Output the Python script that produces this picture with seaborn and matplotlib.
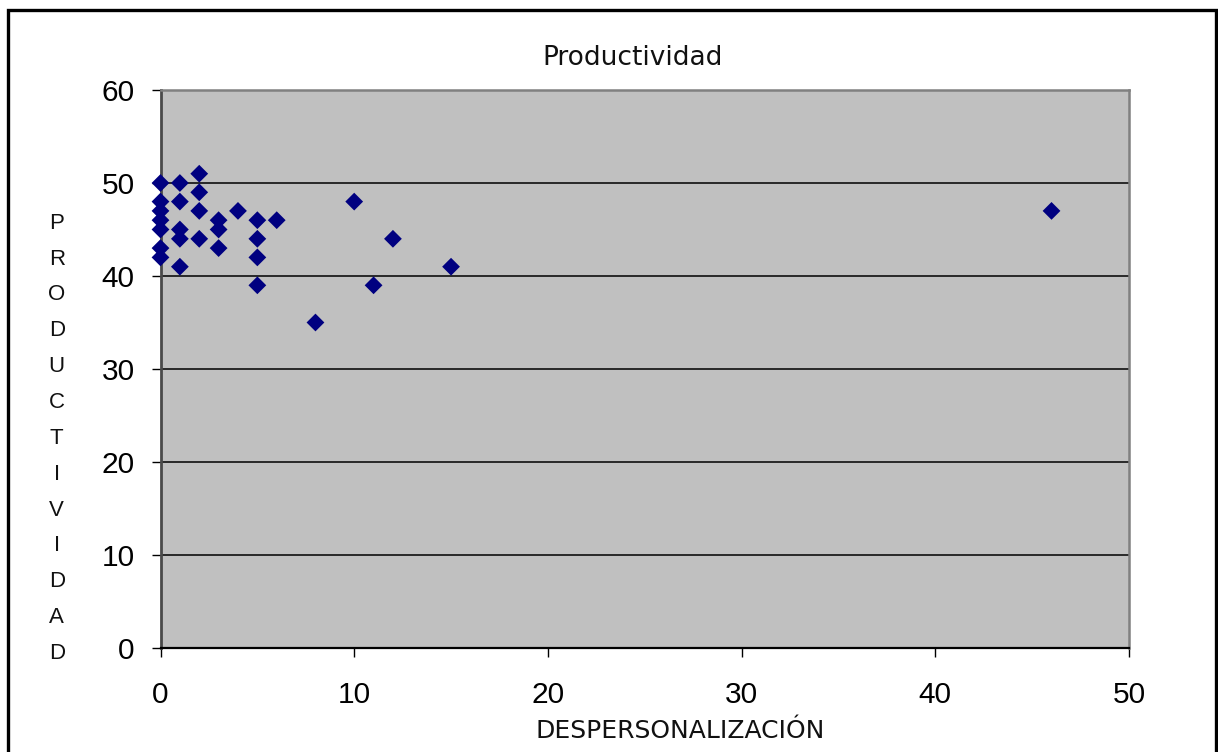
import matplotlib
matplotlib.use("Agg")
import matplotlib.pyplot as plt
import seaborn as sns
import pandas as pd
from matplotlib.patches import Rectangle

# ---- data ----
despersonalizacion = [0, 0, 0, 0, 0, 0, 0,
                      1, 1, 1, 1, 1,
                      2, 2, 2, 2,
                      3, 3, 3,
                      4,
                      5, 5, 5, 5,
                      6, 8, 10, 11, 12, 15, 46]
productividad = [50, 48, 47, 46, 45, 43, 42,
                 50, 48, 45, 44, 41,
                 51, 49, 47, 44,
                 46, 45, 43,
                 47,
                 46, 44, 42, 39,
                 46, 35, 48, 39, 44, 41, 47]
x_ticks = [0, 10, 20, 30, 40, 50]
y_ticks = [0, 10, 20, 30, 40, 50, 60]
title_text = "Productividad"
x_label = "DESPERSONALIZACIÓN"
y_label = "PRODUCTIVIDAD"

W, H = 1218, 752
fig = plt.figure(figsize=(W / 100, H / 100), dpi=100)
fig.patch.set_facecolor("white")

left, right, top, bottom = 160.5, 1129, 90, 648
ax = fig.add_axes([left / W, 1 - bottom / H, (right - left) / W, (bottom - top) / H])
ax.set_facecolor("#C0C0C0")

df = pd.DataFrame({"x": despersonalizacion, "y": productividad})
sns.scatterplot(data=df, x="x", y="y", marker="D", s=82, color="#000080",
                edgecolor="none", linewidth=0, ax=ax, zorder=4, clip_on=False)

ax.set_xlim(0, 50)
ax.set_ylim(0, 60)
ax.set_xticks(x_ticks)
ax.set_yticks(y_ticks)
ax.set_xlabel("")
ax.set_ylabel("")

ax.set_axisbelow(True)
ax.yaxis.grid(True, color="black", linewidth=1.1)
ax.xaxis.grid(False)

for side in ["top", "right"]:
    ax.spines[side].set_color("#808080")
    ax.spines[side].set_linewidth(1.8)
ax.spines["left"].set_color("#4a4a4a")
ax.spines["left"].set_linewidth(2)
ax.spines["bottom"].set_color("black")
ax.spines["bottom"].set_linewidth(1.6)

tick_font = "Liberation Sans"
ax.tick_params(axis="both", direction="out", length=6.5, width=1, colors="black",
               labelsize=21.5)
ax.tick_params(axis="y", pad=12)
ax.tick_params(axis="x", pad=17.5)
for lab in ax.get_xticklabels() + ax.get_yticklabels():
    lab.set_fontfamily(tick_font)

# title
fig.text(633 / W, 1 - 65 / H, title_text, ha="center", va="baseline",
         fontsize=19, family="DejaVu Sans", color="#111111")
# x label
fig.text(680 / W, 1 - 737.5 / H, x_label, ha="center", va="baseline",
         fontsize=18, family="DejaVu Sans", color="#111111")
# stacked y label
for i, ch in enumerate(y_label):
    yc = 221.7 + i * 35.85
    fig.text(56.7 / W, 1 - (yc + 7) / H, ch, ha="center", va="baseline",
             fontsize=16, family="Liberation Sans", color="#111111")

# outer chart border
border = Rectangle((7.5 / W, -20 / H), (1216 - 7.5) / W, (752 + 20 - 9.5) / H,
                   transform=fig.transFigure, fill=False, edgecolor="black",
                   linewidth=2.4, clip_on=False)
fig.patches.append(border)

fig.savefig("out.png", dpi=100, facecolor="white")
